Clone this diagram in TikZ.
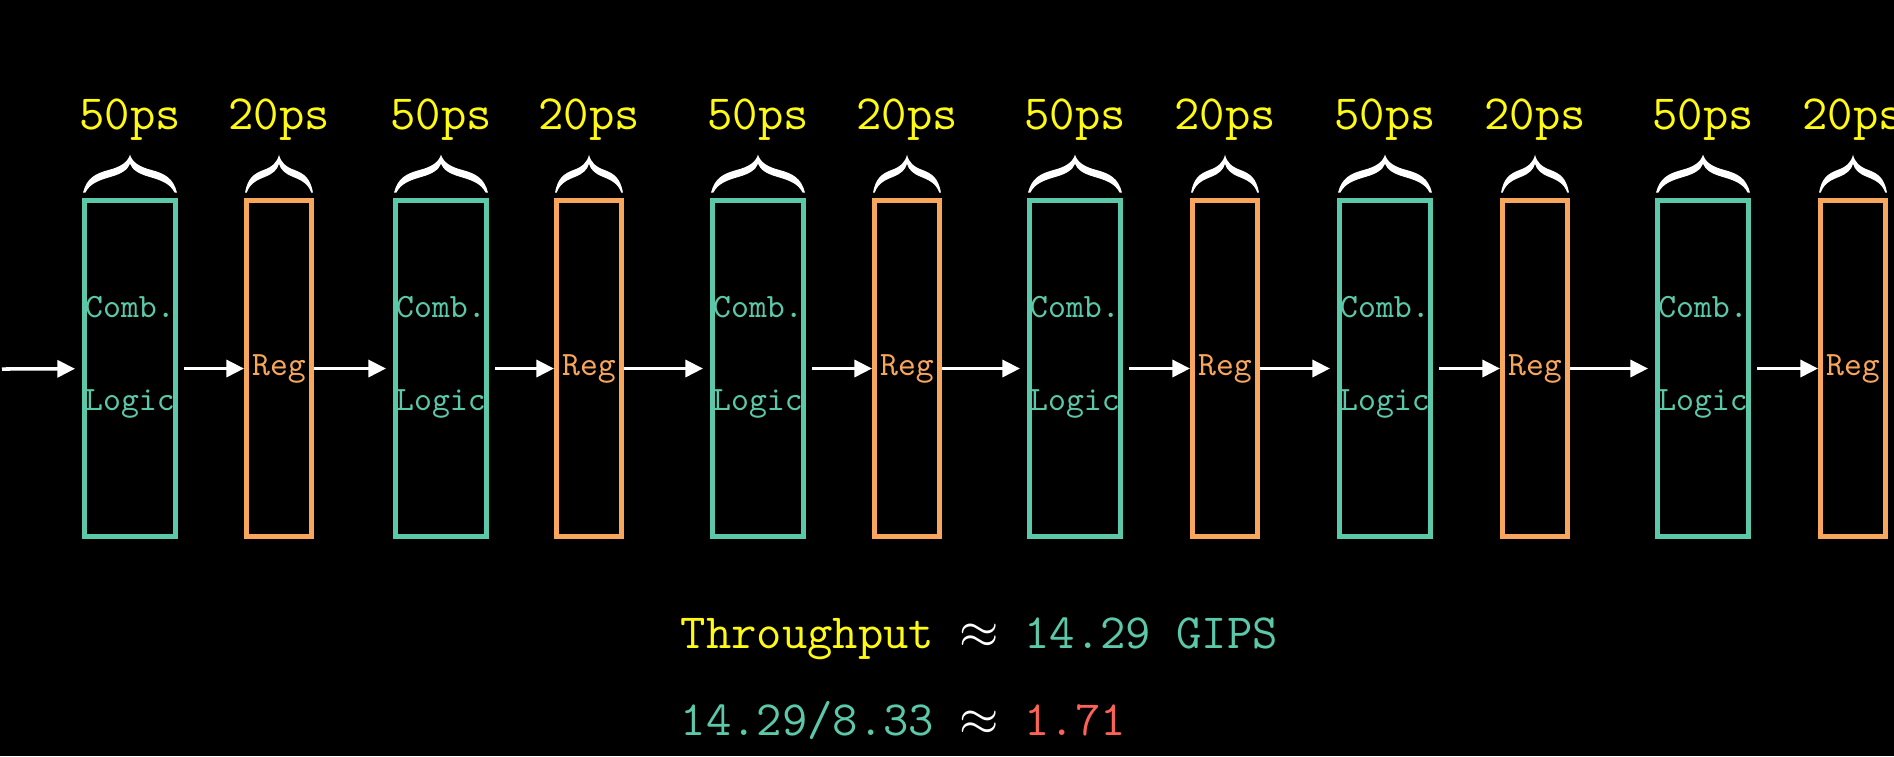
\documentclass[tikz,border=0pt]{standalone}
\usepackage{fontspec}
\usetikzlibrary{arrows.meta}

\definecolor{combcol}{RGB}{92,200,170}
\definecolor{regcol}{RGB}{248,166,92}
\definecolor{delaycol}{RGB}{255,250,20}
\definecolor{gaincol}{RGB}{252,98,85}

\begin{document}
\begin{tikzpicture}
[x=0.01cm,y=-0.01cm,%
  stage/.style={draw,line width=1.4pt,minimum height=3.365cm,inner sep=0pt},%
  comb/.style={stage,draw=combcol,minimum width=0.91cm},%
  reg/.style={stage,draw=regcol,minimum width=0.65cm,text=regcol,font=\fontsize{9.7}{11}\ttfamily},%
  logictext/.style={anchor=base,inner sep=0pt,text=combcol,font=\fontsize{9.7}{11}\ttfamily},%
  delay/.style={anchor=base,inner sep=0pt,text=delaycol,font=\fontsize{14}{16}\ttfamily},%
  flow/.style={-{Triangle[length=5pt,width=4.8pt]},white,line width=1pt},%
  result/.style={anchor=base west,inner sep=0pt,text=white,font=\fontsize{14}{17}\ttfamily},%
  curly/.pic={\fill[white] (-1,0) .. controls (-0.92,0.38) and (-0.75,0.5) .. (-0.45,0.6)
      .. controls (-0.2,0.68) and (-0.05,0.8) .. (0,1)
      .. controls (0.05,0.8) and (0.2,0.68) .. (0.45,0.6)
      .. controls (0.75,0.5) and (0.92,0.38) .. (1,0) -- (0.95,0)
      .. controls (0.85,0.25) and (0.65,0.33) .. (0.4,0.42)
      .. controls (0.18,0.5) and (0.05,0.6) .. (0,0.76)
      .. controls (-0.05,0.6) and (-0.18,0.5) .. (-0.4,0.42)
      .. controls (-0.65,0.33) and (-0.85,0.25) .. (-0.95,0) -- cycle;}]
\fill[black] (0,0) rectangle (1894,756);
\useasboundingbox (0,0) rectangle (1894,756);

% one comb. logic block and its register per stage
\foreach \cx/\rx [count=\i] in {130/279,441/589,758/907,1075/1225,1385/1535,1703/1853}
{
  \node[comb] (c\i) at (\cx,368.5) {};
  \node[reg] (r\i) at (\rx,368.5) {Reg};
  \node[logictext] (cb\i) at ([yshift=0.505cm]c\i.center) {Comb.};
  \node[logictext] (lg\i) at ([yshift=-0.415cm]c\i.center) {Logic};
  \pic[x=0.47cm,y=0.38cm] at ([yshift=0.05cm]c\i.north) {curly};
  \pic[x=0.34cm,y=0.38cm] at ([yshift=0.05cm]r\i.north) {curly};
  \node[delay] (dc\i) at ([yshift=0.68cm]c\i.north) {50ps};
  \node[delay] (dr\i) at ([yshift=0.68cm]r\i.north) {20ps};
  \draw[flow,shorten <=0.06cm] (c\i) -- (r\i);
}
\foreach \i/\j in {1/2,2/3,3/4,4/5,5/6}
  \draw[flow,shorten >=0.07cm] (r\i) -- (c\j);

\coordinate (in) at (2,369);
\draw[flow,shorten >=0.07cm] (in) -- (c1);

\node[result] (tput) at (680,648)
  {\textcolor{delaycol}{Throughput} $\approx$ \textcolor{combcol}{14.29 GIPS}};
\node[result] (gain) at (680,735)
  {\textcolor{combcol}{14.29/8.33} $\approx$ \textcolor{gaincol}{1.71}};
\end{tikzpicture}
\end{document}
